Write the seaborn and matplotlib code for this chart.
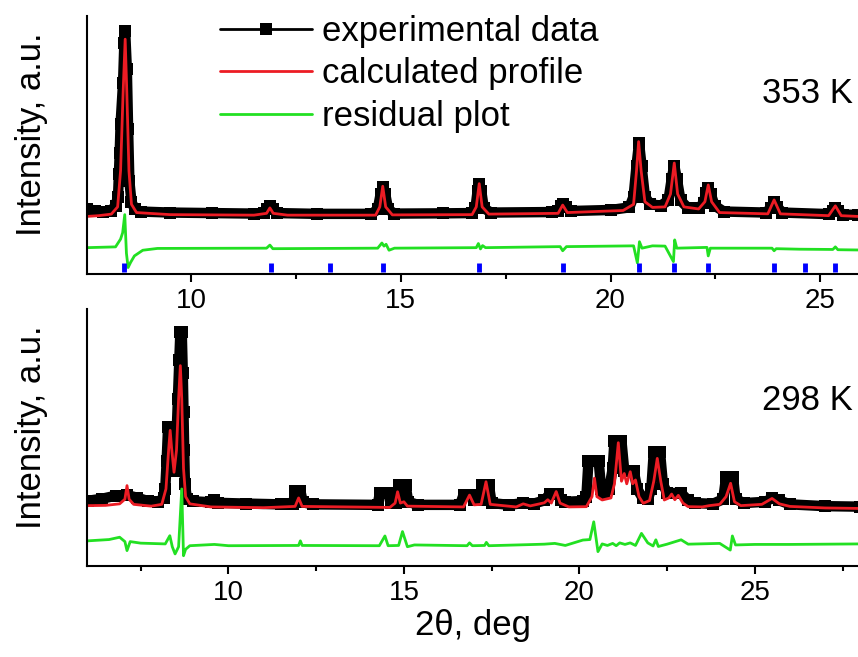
import matplotlib
matplotlib.use("Agg")
import matplotlib.pyplot as plt
from matplotlib.lines import Line2D
from matplotlib.ticker import MultipleLocator
import seaborn as sns

# ---- 353 K pattern (top) ----
top_x_exp = [7.52, 7.70, 7.90, 8.10, 8.20, 8.26, 8.28, 8.30, 8.32, 8.38, 8.41, 8.43, 8.47, 8.50, 8.53,
             8.58, 8.66, 8.80, 9.50, 10.5, 11.5, 11.75, 11.82, 11.88, 11.95, 12.05, 13.0, 14.3, 14.45,
             14.52, 14.57, 14.63, 14.70, 14.85, 16.0, 16.7, 16.78, 16.83, 16.87, 16.92, 16.98, 17.15,
             18.6, 18.75, 18.83, 18.87, 18.93, 19.05, 20.0, 20.45, 20.55, 20.62, 20.68, 20.74, 20.82,
             20.95, 21.2, 21.38, 21.46, 21.52, 21.58, 21.67, 21.85, 22.1, 22.22, 22.28, 22.33, 22.39,
             22.48, 22.7, 23.7, 23.82, 23.9, 23.97, 24.1, 25.2, 25.3, 25.36, 25.43, 25.55, 25.9]
top_y_exp = [25.2, 24.6, 24.2, 24.6, 26.5, 30.0, 38.6, 47.0, 58.0, 74.2, 89.4, 94.2, 79.3, 56.1, 36.0,
             28.0, 25.0, 24.2, 23.8, 23.6, 23.4, 23.6, 25.0, 26.4, 25.0, 23.6, 23.3, 23.3, 25.0,
             31.0, 33.7, 31.0, 25.0, 23.4, 23.5, 23.6, 25.5, 32.0, 34.9, 32.0, 25.5, 23.8,
             24.0, 24.5, 26.3, 27.1, 26.0, 24.4, 24.8, 25.8, 30.0, 42.0, 50.8, 42.0, 30.0,
             27.0, 26.5, 28.5, 37.0, 42.0, 37.0, 28.5, 25.5, 25.5, 27.5, 31.5, 33.4, 31.0,
             26.5, 24.2, 23.8, 25.5, 28.0, 26.0, 23.8, 23.2, 24.5, 25.7, 24.5, 23.0, 22.9]

top_x_calc = [7.52, 7.80, 8.10, 8.25, 8.32, 8.38, 8.43, 8.47, 8.52, 8.58, 8.70, 9.50, 11.5, 11.8,
              11.88, 11.96, 12.3, 14.4, 14.5, 14.57, 14.64, 14.8, 16.7, 16.8, 16.87, 16.94, 17.1,
              18.75, 18.86, 18.97, 20.3, 20.55, 20.62, 20.67, 20.73, 20.82, 21.0, 21.3, 21.43, 21.52,
              21.6, 21.75, 22.1, 22.25, 22.33, 22.41, 22.6, 23.75, 23.9, 24.05, 25.2, 25.36, 25.5, 25.9]
top_y_calc = [22.3, 22.6, 23.2, 26.0, 40.0, 70.0, 91.0, 70.0, 40.0, 27.0, 23.8, 23.0, 22.8, 23.5,
              25.6, 23.5, 22.8, 22.8, 26.0, 34.0, 26.0, 22.9, 23.0, 26.0, 35.0, 26.0, 23.2,
              23.5, 26.7, 23.8, 24.6, 27.0, 40.0, 51.3, 40.0, 28.0, 25.8, 26.0, 31.0, 43.0,
              31.0, 26.0, 25.2, 28.0, 34.5, 28.0, 23.8, 23.3, 28.7, 23.3, 22.6, 26.4, 22.6, 22.3]

top_x_res = [7.52, 8.20, 8.32, 8.37, 8.42, 8.46, 8.50, 8.56, 8.65, 8.85, 9.20, 11.8, 11.88, 11.95,
             14.45, 14.55, 14.60, 14.65, 14.72, 14.85, 16.8, 16.85, 16.9, 16.95, 17.02, 18.8, 18.86,
             18.95, 20.55, 20.64, 20.69, 20.75, 21.0, 21.3, 21.50, 21.53, 21.58, 22.30, 22.33, 22.38,
             23.85, 23.9, 23.95, 24.5, 25.3, 25.36, 25.42, 25.9]
top_y_res = [10.2, 10.5, 13.5, 16.0, 23.0, 8.0, 2.5, 4.5, 7.0, 9.2, 9.9, 10.0, 11.2, 9.8,
             10.0, 12.0, 10.8, 11.5, 9.2, 10.0, 10.2, 11.8, 9.7, 11.0, 10.2, 10.6, 9.0,
             10.6, 10.9, 4.3, 12.5, 10.0, 10.9, 10.8, 4.8, 13.2, 10.0, 10.3, 7.0, 10.0,
             10.0, 9.0, 9.8, 9.6, 9.5, 10.5, 9.4, 9.3]

bragg_pos = [8.40, 11.90, 13.31, 14.57, 16.86, 18.86, 20.67, 21.52, 22.33, 23.90, 24.64, 25.36]

# ---- 298 K pattern (bottom) ----
bot_x_exp = [6.0, 6.4, 6.8, 7.1, 7.4, 7.7, 8.0, 8.15, 8.20, 8.24, 8.28, 8.36, 8.42, 8.47, 8.52,
             8.56, 8.60, 8.63, 8.67, 8.70, 8.72, 8.74, 8.76, 8.82, 9.0, 9.5, 9.6, 9.7, 10.5, 11.5,
             11.85, 11.9, 12.05, 12.12, 12.4, 14.25, 14.32, 14.55, 14.62, 14.78, 14.85, 15.05, 15.12,
             15.4, 16.6, 16.7, 16.92, 17.0, 17.18, 17.22, 17.42, 17.5, 18.0, 18.4, 18.7, 19.0, 19.15,
             19.38, 19.48, 19.6, 20.1, 20.2, 20.26, 20.55, 20.62, 20.7, 20.85, 20.95, 21.0, 21.2,
             21.28, 21.55, 21.65, 21.8, 21.95, 22.05, 22.12, 22.3, 22.38, 22.5, 22.9, 23.1, 23.3,
             23.8, 24.1, 24.18, 24.38, 24.45, 24.7, 25.3, 25.5, 25.7, 26.0, 27.0, 28.0]
bot_y_exp = [25.4, 26.2, 27.4, 27.6, 26.6, 25.3, 25.0, 26.5, 30.0, 41.0, 54.0, 54.0, 45.0, 37.0, 50.0,
             65.0, 80.0, 91.0, 91.0, 75.0, 60.0, 45.0, 32.0, 26.0, 25.2, 24.8, 25.5, 24.6, 24.3, 24.0,
             24.3, 29.2, 29.2, 24.8, 24.0, 23.8, 28.6, 28.6, 24.5, 24.5, 31.6, 31.6, 25.0,
             23.8, 23.8, 27.7, 27.7, 25.5, 25.5, 31.6, 31.6, 24.5, 23.8, 24.5, 24.3, 25.5, 28.0,
             28.0, 25.5, 25.0, 25.3, 27.0, 41.0, 41.0, 30.0, 28.5, 30.0, 38.0, 48.7, 48.7,
             37.0, 37.0, 30.0, 26.5, 26.0, 30.0, 44.2, 44.2, 32.0, 28.4, 28.4, 25.5, 24.5,
             24.2, 26.0, 34.5, 34.5, 26.0, 24.5, 25.0, 26.5, 25.5, 24.0, 23.3, 23.1]

bot_x_calc = [6.0, 6.5, 6.9, 7.05, 7.11, 7.17, 7.3, 7.8, 8.1, 8.22, 8.30, 8.34, 8.38, 8.45, 8.52,
              8.58, 8.63, 8.67, 8.72, 8.78, 8.9, 9.5, 11.0, 11.9, 12.0, 12.1, 14.6, 14.75, 14.82,
              14.9, 15.0, 15.1, 16.7, 16.87, 17.0, 17.2, 17.34, 17.46, 18.2, 18.4, 18.6, 19.0, 19.1,
              19.2, 19.34, 19.45, 19.7, 20.2, 20.36, 20.43, 20.5, 20.65, 20.9, 21.0, 21.11, 21.2,
              21.28, 21.35, 21.45, 21.52, 21.6, 21.7, 21.82, 22.0, 22.12, 22.22, 22.32, 22.42, 22.55,
              22.63, 22.72, 22.82, 22.95, 23.1, 23.5, 23.7, 24.0, 24.18, 24.31, 24.42, 24.6, 25.2,
              25.49, 25.7, 26.0, 27.0, 28.0]
bot_y_calc = [23.5, 23.6, 24.2, 26.0, 31.3, 26.0, 24.0, 23.3, 24.0, 30.0, 46.0, 52.8, 46.0, 36.5, 45.0,
              65.0, 78.0, 65.0, 38.0, 27.0, 24.2, 23.0, 22.7, 23.2, 26.5, 23.2, 22.8, 24.5, 28.9,
              24.5, 25.0, 23.3, 23.0, 27.6, 23.8, 24.0, 32.8, 24.0, 23.0, 24.2, 23.4, 24.6, 25.8,
              24.5, 29.0, 24.5, 23.0, 23.1, 27.0, 34.2, 27.0, 25.7, 26.5, 32.0, 48.0, 33.0,
              36.0, 32.0, 36.7, 32.0, 33.5, 27.0, 24.4, 25.5, 33.0, 41.9, 33.0, 25.7, 26.5,
              28.0, 25.8, 27.5, 24.5, 23.1, 23.0, 23.5, 24.0, 27.0, 32.2, 25.0, 23.5, 24.0,
              26.3, 24.2, 23.2, 22.6, 22.4]

bot_x_res = [6.0, 6.6, 6.9, 7.05, 7.11, 7.2, 7.5, 8.2, 8.33, 8.4, 8.48, 8.58, 8.67, 8.72, 8.78, 8.9,
             9.6, 10.0, 12.0, 12.05, 12.1, 14.3, 14.46, 14.55, 14.85, 14.96, 15.1, 15.3, 16.8, 16.87,
             16.95, 17.3, 17.35, 17.42, 18.5, 19.0, 19.3, 19.6, 20.1, 20.3, 20.41, 20.53, 20.65, 20.8,
             20.95, 21.05, 21.15, 21.3, 21.45, 21.6, 21.77, 21.95, 22.1, 22.18, 22.25, 22.5, 22.9,
             23.1, 23.4, 24.0, 24.3, 24.36, 24.45, 25.0, 26.0, 28.0]
bot_y_res = [9.8, 10.3, 11.2, 9.5, 6.0, 9.5, 8.9, 8.6, 11.8, 7.5, 4.7, 7.5, 30.0, 4.0, 6.5, 7.9,
             8.4, 7.9, 8.0, 9.8, 8.0, 7.9, 11.7, 7.9, 8.0, 13.4, 7.5, 8.2, 7.9, 9.0,
             7.9, 8.0, 9.2, 7.9, 8.3, 8.5, 8.8, 8.0, 10.1, 10.3, 17.2, 5.6, 8.6, 8.0,
             8.8, 7.9, 9.0, 8.4, 9.0, 8.0, 12.7, 9.0, 7.8, 10.2, 7.6, 8.5, 10.2,
             8.5, 8.6, 8.8, 6.2, 11.7, 8.2, 8.4, 8.4, 8.6]

legend_labels = ["experimental data", "calculated profile", "residual plot"]
temps = ["353 K", "298 K"]

RED = "#ec1c24"
GREEN = "#22e022"
BLUE = "#0000ff"

sns.set_theme(style="ticks")
plt.rcParams["font.family"] = ["Liberation Sans", "DejaVu Sans"]
plt.rcParams["axes.linewidth"] = 1.5
plt.rcParams["text.color"] = "black"
plt.rcParams["axes.labelcolor"] = "black"
plt.rcParams["xtick.color"] = "black"
plt.rcParams["axes.edgecolor"] = "black"

fig = plt.figure(figsize=(8.58, 6.57), dpi=100)
ax_top = fig.add_axes([0.1014, 0.583, 0.8986, 0.3927])
ax_bot = fig.add_axes([0.1014, 0.1385, 0.8986, 0.391])


def draw(ax, xe, ye, xc, yc, xr, yr):
    sns.lineplot(x=xe, y=ye, ax=ax, color="black", lw=7.5, marker="s", markersize=8.5,
                 markeredgewidth=0, estimator=None, sort=False)
    sns.lineplot(x=xc, y=yc, ax=ax, color=RED, lw=2, estimator=None, sort=False)
    sns.lineplot(x=xr, y=yr, ax=ax, color=GREEN, lw=2, estimator=None, sort=False)


draw(ax_top, top_x_exp, top_y_exp, top_x_calc, top_y_calc, top_x_res, top_y_res)
ax_top.vlines(bragg_pos, 0.8, 4.3, color=BLUE, lw=3.5)
draw(ax_bot, bot_x_exp, bot_y_exp, bot_x_calc, bot_y_calc, bot_x_res, bot_y_res)

ax_top.set_xlim(7.52, 25.9)
ax_bot.set_xlim(5.97, 27.94)

for ax in [ax_top, ax_bot]:
    ax.set_ylim(0, 100)
    sns.despine(ax=ax)
    ax.set_yticks([])
    ax.xaxis.set_major_locator(MultipleLocator(5))
    ax.xaxis.set_minor_locator(MultipleLocator(2.5))
    ax.tick_params(axis="x", which="major", length=6, width=1.5, labelsize=20, pad=4,
                   color="black", labelcolor="black")
    ax.tick_params(axis="x", which="minor", length=3.5, width=1.5, bottom=True, color="black")
    ax.set_ylabel("Intensity, a.u.", fontsize=25, color="black")
    ax.yaxis.set_label_coords(-0.05, 0.54)
    ax.set_xlabel("")
    ax.grid(False)

ax_top.text(0.9935, 0.698, temps[0], transform=ax_top.transAxes, ha="right", va="center",
            fontsize=25, color="black")
ax_bot.text(0.9935, 0.646, temps[1], transform=ax_bot.transAxes, ha="right", va="center",
            fontsize=25, color="black")

ax_bot.set_xlabel("2\u03b8, deg", fontsize=25, labelpad=2, color="black")

handles = [Line2D([], [], color="black", lw=2, marker="s", markersize=9, markeredgewidth=0),
           Line2D([], [], color=RED, lw=2),
           Line2D([], [], color=GREEN, lw=2)]
leg = ax_top.legend(handles, legend_labels, loc="upper left", bbox_to_anchor=(0.1725, 1.004),
                    frameon=False, fontsize=25, handlelength=2.65, handletextpad=0.3,
                    labelspacing=0.27, borderpad=0, borderaxespad=0)
for txt in leg.get_texts():
    txt.set_color("black")

fig.savefig("out.png", dpi=100)
